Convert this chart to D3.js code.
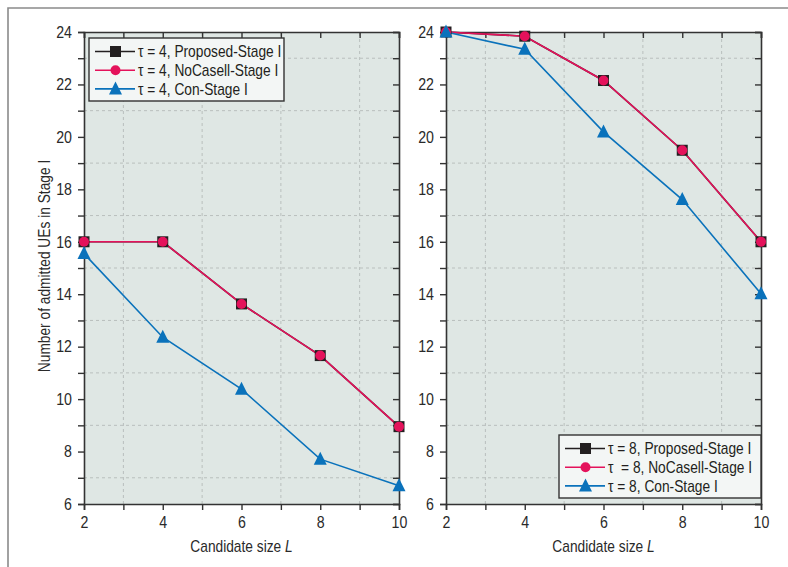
<!DOCTYPE html>
<html><head><meta charset="utf-8">
<script src="https://cdn.jsdelivr.net/npm/d3@7"></script>
<style>
body{margin:0;background:#fff;}
svg{display:block;font-family:"Liberation Sans",Arial,sans-serif;}
</style></head>
<body><svg id="c" width="788" height="567"></svg>
<script>
const candidateSizes = [2, 4, 6, 8, 10];
const tau4Proposed = [16, 16, 13.63, 11.66, 8.95];
const tau4NoCasell = [16, 16, 13.63, 11.66, 8.95];
const tau4Con = [15.55, 12.36, 10.38, 7.71, 6.7];
const tau8Proposed = [24, 23.84, 22.15, 19.49, 16.0];
const tau8NoCasell = [24, 23.84, 22.15, 19.49, 16.0];
const tau8Con = [24, 23.34, 20.19, 17.61, 14.02];
const xTicks = [2, 4, 6, 8, 10];
const yTicks = [6, 8, 10, 12, 14, 16, 18, 20, 22, 24];
const legend4 = ["τ = 4, Proposed-Stage I", "τ = 4, NoCasell-Stage I", "τ = 4, Con-Stage I"];
const legend8 = ["τ = 8, Proposed-Stage I", "τ  = 8, NoCasell-Stage I", "τ = 8, Con-Stage I"];
const xLabel = "Candidate size ";
const yLabel = "Number of admitted UEs in Stage I";

const colors = ["#231f20", "#e4125b", "#0a72bb"];
const shapes = ["square", "circle", "triangle"];
const SX = 0.86; // horizontal condensation to mimic a condensed typeface
const TXT = "#2a2a2a";
const svg = d3.select("#c");

// outer frame
svg.append("path").attr("d", "M8,567V8H788").attr("fill", "none").attr("stroke", "#8a8a8a").attr("stroke-width", 1.6);

function ctext(parent, x, y, extra) {
  return parent.append("text").attr("transform", `translate(${x},${y}) ${extra || ""} scale(${SX},1)`)
    .style("font-size", "16px").attr("fill", TXT);
}

function panel(x0, x1, series, labels, legPos) {
  const y0 = 504, y1 = 32;
  const x = d3.scaleLinear().domain([2, 10]).range([x0, x1]);
  const y = d3.scaleLinear().domain([6, 24]).range([y0, y1]);
  const g = svg.append("g");
  g.append("rect").attr("x", x0).attr("y", y1).attr("width", x1 - x0).attr("height", y0 - y1).attr("fill", "#dfe7e4");
  const gx = d3.range(3, 10, 2), gy = d3.range(7, 24, 2);
  g.selectAll(".gx").data(gx).join("line").attr("x1", d => x(d)).attr("x2", d => x(d)).attr("y1", y0).attr("y2", y1)
    .attr("stroke", "#b9bfbd").attr("stroke-width", 1).attr("stroke-dasharray", "3,3");
  g.selectAll(".gy").data(gy).join("line").attr("y1", d => y(d)).attr("y2", d => y(d)).attr("x1", x0).attr("x2", x1)
    .attr("stroke", "#b9bfbd").attr("stroke-width", 1).attr("stroke-dasharray", "3,3");
  const allX = d3.range(2, 11, 1), allY = d3.range(6, 25, 1);
  const axCol = "#333";
  const bx = g.append("g").attr("transform", `translate(0,${y0})`)
    .call(d3.axisBottom(x).tickValues(allX).tickSize(6).tickFormat(d => xTicks.includes(d) ? d : ""));
  const ly = g.append("g").attr("transform", `translate(${x0},0)`)
    .call(d3.axisLeft(y).tickValues(allY).tickSize(6).tickFormat(d => yTicks.includes(d) ? d : ""));
  const tx = g.append("g").attr("transform", `translate(0,${y1})`)
    .call(d3.axisTop(x).tickValues(allX).tickSize(-6).tickFormat(""));
  const ry = g.append("g").attr("transform", `translate(${x1},0)`)
    .call(d3.axisRight(y).tickValues(allY).tickSize(-6).tickFormat(""));
  [bx, ly, tx, ry].forEach(a => {
    a.select(".domain").attr("stroke", axCol).attr("stroke-width", 1.6);
    a.selectAll(".tick line").attr("stroke", axCol).attr("stroke-width", 1.4);
    a.selectAll("text").attr("fill", TXT).style("font-size", "16.5px").style("font-family", "inherit")
      .attr("transform", `scale(${SX},1)`);
  });
  bx.selectAll("text").attr("y", 11).attr("dy", "0.8em");
  ly.selectAll("text").attr("x", -12 / SX);

  const line = d3.line().x((d, i) => x(candidateSizes[i])).y(d => y(d));
  series.forEach((s, k) => {
    g.append("path").datum(s).attr("d", line).attr("fill", "none").attr("stroke", colors[k]).attr("stroke-width", 1.6);
  });
  series.forEach((s, k) => {
    s.forEach((v, i) => drawMarker(g, shapes[k], x(candidateSizes[i]), y(v), colors[k]));
  });

  const lg = g.append("g");
  lg.append("rect").attr("x", legPos.x).attr("y", legPos.y).attr("width", legPos.w).attr("height", legPos.h)
    .attr("fill", "#f3f6f5").attr("stroke", "#333").attr("stroke-width", 1.4);
  labels.forEach((t, k) => {
    const ry2 = legPos.y + 13.5 + k * 18.7;
    lg.append("line").attr("x1", legPos.x + 6).attr("x2", legPos.x + 46).attr("y1", ry2).attr("y2", ry2)
      .attr("stroke", colors[k]).attr("stroke-width", 1.6);
    drawMarker(lg, shapes[k], legPos.x + 26.5, ry2, colors[k]);
    ctext(lg, legPos.x + 49, ry2).attr("dy", "0.35em").attr("fill", "#231f20").style("font-size", "16px")
      .style("white-space", "pre").text(t);
  });

  const xl = ctext(g, (x0 + x1) / 2, 552).attr("text-anchor", "middle").style("font-size", "16px");
  xl.append("tspan").text(xLabel);
  xl.append("tspan").attr("font-style", "italic").text("L");
  return {x, y};
}

function drawMarker(g, shape, cx, cy, col) {
  if (shape === "square") {
    g.append("rect").attr("x", cx - 5.5).attr("y", cy - 5.5).attr("width", 11).attr("height", 11).attr("fill", col);
  } else if (shape === "circle") {
    g.append("circle").attr("cx", cx).attr("cy", cy).attr("r", 5).attr("fill", col);
  } else {
    const s = 6.5;
    g.append("path").attr("d", `M${cx},${cy - s - 1}L${cx + s},${cy + s - 1}L${cx - s},${cy + s - 1}Z`).attr("fill", col);
  }
}

panel(84, 399, [tau4Proposed, tau4NoCasell, tau4Con], legend4, {x: 89, y: 38, w: 195, h: 63});
panel(446, 761, [tau8Proposed, tau8NoCasell, tau8Con], legend8, {x: 559, y: 435, w: 202, h: 63});

ctext(svg, 50, 266, "rotate(-90)").attr("text-anchor", "middle").text(yLabel);
</script></body></html>
